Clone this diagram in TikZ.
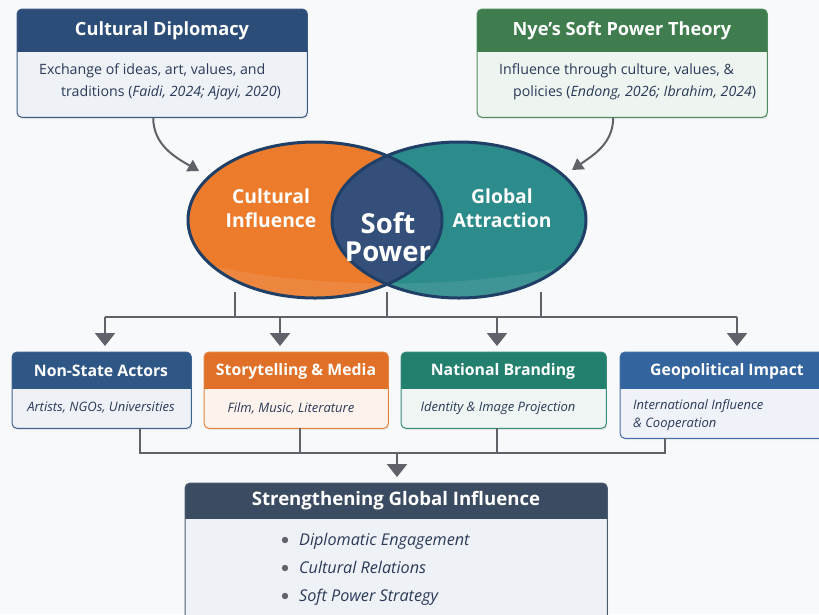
\documentclass[tikz,border=0pt]{standalone}
\usepackage{fontspec}
\setmainfont{Open Sans}
\usetikzlibrary{arrows.meta,shapes.geometric,shadows,calc}

\definecolor{bg}{HTML}{F8F9FB}
\definecolor{txtnavy}{HTML}{2A3A58}
\definecolor{arrowgray}{HTML}{5F6268}
\definecolor{cdhead}{HTML}{2B4D78}
\definecolor{cdbody}{HTML}{EEF2F7}
\definecolor{cdline}{HTML}{3A5A85}
\definecolor{nyehead}{HTML}{3F7D4E}
\definecolor{nyebody}{HTML}{EEF4F0}
\definecolor{nyeline}{HTML}{4F8C5E}
\definecolor{nsahead}{HTML}{2E5786}
\definecolor{nsabody}{HTML}{EEF2F7}
\definecolor{nsaline}{HTML}{3D6390}
\definecolor{stmhead}{HTML}{E07028}
\definecolor{stmbody}{HTML}{FDF3EC}
\definecolor{stmline}{HTML}{E5853F}
\definecolor{nbhead}{HTML}{23806F}
\definecolor{nbbody}{HTML}{EEF5F3}
\definecolor{nbline}{HTML}{3A8C7D}
\definecolor{geohead}{HTML}{33649D}
\definecolor{geobody}{HTML}{EFF3F9}
\definecolor{geoline}{HTML}{4470A6}
\definecolor{sgihead}{HTML}{3B4B61}
\definecolor{sgibody}{HTML}{EEF1F5}
\definecolor{sgiline}{HTML}{4C5B70}
\definecolor{vorange}{HTML}{EC7B2B}
\definecolor{vteal}{HTML}{2C8B8B}
\definecolor{vnavy}{HTML}{34507A}
\definecolor{vline}{HTML}{1F3F66}

\tikzset{
  boxbody/.style={rectangle, rounded corners=5pt, inner sep=0pt,
    drop shadow={opacity=0.16, shadow xshift=1pt, shadow yshift=-2pt}},
  toptitle/.style={text=white, font=\fontsize{18.2}{21}\selectfont\bfseries, inner sep=0pt},
  midtitle/.style={text=white, font=\fontsize{15.8}{18}\selectfont\bfseries, inner sep=0pt},
  bigtitle/.style={text=white, font=\fontsize{18.6}{21}\selectfont\bfseries, inner sep=0pt},
  topbody/.style={text=txtnavy, font=\fontsize{14.2}{22.5}\selectfont, align=left, inner sep=0pt},
  midbody/.style={text=txtnavy, font=\fontsize{13}{18}\selectfont\itshape, align=left, inner sep=0pt},
  bulitem/.style={text=txtnavy, font=\fontsize{16.2}{18}\selectfont\itshape, inner sep=0pt, anchor=base west},
  venntxt/.style={text=white, font=\fontsize{19.3}{24}\selectfont\bfseries, align=center, inner sep=0pt},
  softtxt/.style={text=white, font=\fontsize{27.5}{28}\selectfont\bfseries, align=center, inner sep=0pt},
  curvearr/.style={draw=arrowgray, line width=2pt, -{Triangle[width=13pt,length=11pt]}},
  bus/.style={draw=arrowgray, line width=2.6pt},
  busarr/.style={draw=arrowgray, line width=2.6pt, -{Triangle[width=20pt,length=13pt]}, shorten >=6pt},
}

% box with a coloured header band: name, x, y, width, height, header height, colours
\newcommand{\headbox}[9]{%
  \node[boxbody, fill=#8, minimum width=#4pt, minimum height=#5pt, anchor=north west] (#1) at (#2,-#3) {};
  \begin{scope}
    \clip (#1.north west) rectangle ($(#1.north east)+(0,-#6)$);
    \fill[#7, rounded corners=5pt] (#1.north west) rectangle ($(#1.north east)+(0,-#6-10)$);
  \end{scope}
  \draw[#9, line width=1pt, rounded corners=5pt] (#1.north west) rectangle (#1.south east);
}

\begin{document}
\begin{tikzpicture}[x=1pt,y=1pt]
\fill[bg] (0,0) rectangle (819,-614);
\useasboundingbox (0,0) rectangle (819,-614);

% ---------- top sources ----------
\headbox{cd}{17}{9}{290}{108}{42}{cdhead}{cdbody}{cdline}
\node[toptitle] (cd-t) at (162,-31) {Cultural Diplomacy};
\node[topbody, anchor=west] (cd-b) at (39,-82)
  {Exchange of ideas, art, values, and\\\hspace*{22pt}traditions (\textit{Faidi, 2024; Ajayi, 2020})};

\headbox{nye}{477}{9}{290}{108}{42}{nyehead}{nyebody}{nyeline}
\node[toptitle] (nye-t) at (622,-31) {Nye’s Soft Power Theory};
\node[topbody, anchor=west] (nye-b) at (499,-82)
  {Influence through culture, values, \&\\\hspace*{14pt}policies (\textit{Endong, 2026; Ibrahim, 2024})};

% ---------- Venn core ----------
\node[ellipse, minimum width=254pt, minimum height=156pt, inner sep=0pt, fill=vorange] (ci) at (315,-220) {};
\node[ellipse, minimum width=254pt, minimum height=156pt, inner sep=0pt, fill=vteal] (ga) at (459,-220) {};
\begin{scope}
  \clip (315,-220) ellipse [x radius=127, y radius=78];
  \fill[vnavy] (459,-220) ellipse [x radius=127, y radius=78];
\end{scope}
% soft lower sheen on both lobes
\begin{scope}
  \clip (315,-220) ellipse [x radius=127, y radius=78] (459,-220) ellipse [x radius=127, y radius=78];
  \fill[white, opacity=0.09] (180,-258) .. controls (300,-292) and (480,-292) .. (600,-258) -- (600,-320) -- (180,-320) -- cycle;
\end{scope}
\draw[vline, line width=3pt] (315,-220) ellipse [x radius=127, y radius=78];
\draw[vline, line width=3pt] (459,-220) ellipse [x radius=127, y radius=78];

\node[venntxt] (ci-t) at (271,-208) {Cultural\\Influence};
\node[venntxt] (ga-t) at (502,-208) {Global\\Attraction};
\node[softtxt] (sp-t) at (388,-237) {Soft\\Power};

% arrows from the sources into the core
\coordinate (tipL) at (199,-171);
\coordinate (tipR) at (572,-170);
\draw[curvearr] ([xshift=-9pt]cd.south) to[out=-90, in=150] (tipL);
\draw[curvearr] ([xshift=-9pt]nye.south) to[out=-90, in=35] (tipR);

% ---------- middle row ----------
\headbox{nsa}{12}{352}{179}{76}{36}{nsahead}{nsabody}{nsaline}
\node[midtitle] (nsa-t) at (101,-371) {Non-State Actors};
\node[midbody] (nsa-b) at (101,-408) {Artists, NGOs, Universities};

\headbox{stm}{204}{352}{184}{76}{36}{stmhead}{stmbody}{stmline}
\node[midtitle] (stm-t) at (296,-371) {Storytelling \& Media};
\node[midbody] (stm-b) at (291,-408) {Film, Music, Literature};

\headbox{nb}{401}{352}{205}{76}{36}{nbhead}{nbbody}{nbline}
\node[midtitle] (nb-t) at (503,-371) {National Branding};
\node[midbody] (nb-b) at (498,-408) {Identity \& Image Projection};

\headbox{geo}{620}{352}{214}{86}{36}{geohead}{geobody}{geoline}
\node[midtitle] (geo-t) at (727,-371) {Geopolitical Impact};
\node[midbody, anchor=west] (geo-b) at (633,-415) {International Influence\\\& Cooperation};

% distribution bus below the core
\coordinate (t1) at (235,-292);
\coordinate (t2) at (387,-292);
\coordinate (t3) at (541,-292);
\coordinate (busL) at (105,-317);
\coordinate (busR) at (737,-317);
\coordinate (a2) at (280,-317);
\coordinate (a3) at (497,-317);
\draw[bus] (t1) -- (t1 |- busL);
\draw[bus] (t2) -- (t2 |- busL);
\draw[bus] (t3) -- (t3 |- busL);
\draw[bus] (busL) -- (busR);
\draw[busarr] (busL) -- (busL |- nsa.north);
\draw[busarr] (a2) -- (a2 |- stm.north);
\draw[busarr] (a3) -- (a3 |- nb.north);
\draw[busarr] (busR) -- (busR |- geo.north);

% ---------- outcome ----------
\headbox{sgi}{185}{483}{422}{140}{35}{sgihead}{sgibody}{sgiline}
\node[bigtitle] (sgi-t) at (396,-501) {Strengthening Global Influence};
\fill[arrowgray] (285,-540) circle (3.2);
\fill[arrowgray] (285,-568) circle (3.2);
\fill[arrowgray] (285,-596) circle (3.2);
\node[bulitem] (sgi-1) at (299,-545.5) {Diplomatic Engagement};
\node[bulitem] (sgi-2) at (299,-573.5) {Cultural Relations};
\node[bulitem] (sgi-3) at (299,-601.5) {Soft Power Strategy};

% collecting bus into the outcome
\coordinate (j1) at (140,-453);
\coordinate (j2) at (300,-453);
\coordinate (j3) at (497,-453);
\coordinate (j4) at (665,-453);
\coordinate (jm) at (397,-453);
\draw[bus] (j1 |- nsa.south) -- (j1) -- (j4) -- (j4 |- geo.south);
\draw[bus] (j2 |- stm.south) -- (j2);
\draw[bus] (j3 |- nb.south) -- (j3);
\draw[busarr] (jm) -- (jm |- sgi.north);
\end{tikzpicture}
\end{document}
